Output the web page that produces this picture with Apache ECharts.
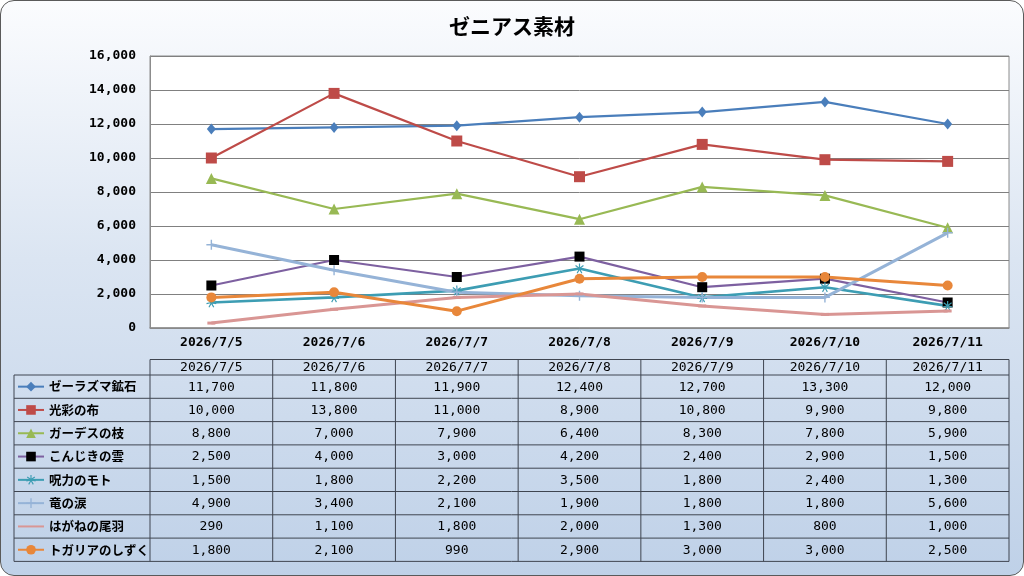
<!DOCTYPE html>
<html>
<head>
<meta charset="utf-8">
<script src="https://cdn.jsdelivr.net/npm/echarts@6/dist/echarts.min.js"></script>
<style>
  html, body { margin: 0; padding: 0; background: #fff; }
  #frame {
    position: absolute; left: 0; top: 0; width: 1022px; height: 574px;
    border: 1px solid #5a5a5a; border-radius: 14px; overflow: hidden;
    background: linear-gradient(to bottom, #fbfcfe 0%, #dbe5f2 45%, #bfd1e8 100%);
  }
  #chart { width: 1022px; height: 574px; }
</style>
</head>
<body>
<div id="frame"><div id="chart"></div></div>
<script>
// カテゴリ（日付）
const dates = ['2026/7/5', '2026/7/6', '2026/7/7', '2026/7/8', '2026/7/9', '2026/7/10', '2026/7/11'];
// 系列名
const names = ['ゼーラズマ鉱石', '光彩の布', 'ガーデスの枝', 'こんじきの雲', '呪力のモト', '竜の涙', 'はがねの尾羽', 'トガリアのしずく'];
// 各系列の値
const zeraOre    = [11700, 11800, 11900, 12400, 12700, 13300, 12000];
const koCloth    = [10000, 13800, 11000, 8900, 10800, 9900, 9800];
const gardBranch = [8800, 7000, 7900, 6400, 8300, 7800, 5900];
const goldCloud  = [2500, 4000, 3000, 4200, 2400, 2900, 1500];
const curseMoto  = [1500, 1800, 2200, 3500, 1800, 2400, 1300];
const dragonTear = [4900, 3400, 2100, 1900, 1800, 1800, 5600];
const steelWing  = [290, 1100, 1800, 2000, 1300, 800, 1000];
const togaDrop   = [1800, 2100, 990, 2900, 3000, 3000, 2500];
// 縦軸目盛
const yTicks = [0, 2000, 4000, 6000, 8000, 10000, 12000, 14000, 16000];

const values = [zeraOre, koCloth, gardBranch, goldCloud, curseMoto, dragonTear, steelWing, togaDrop];

const FONT = "'Noto Sans CJK JP', 'Noto Sans', sans-serif";
const NUMFONT = "'DejaVu Sans Mono', monospace";
const PLUS = 'path://M4.3,0 L5.7,0 L5.7,4.3 L10,4.3 L10,5.7 L5.7,5.7 L5.7,10 L4.3,10 L4.3,5.7 L0,5.7 L0,4.3 L4.3,4.3 Z';
const STAR = 'path://M4.4,0 L5.6,0 L5.6,3.6 L8.6,1.4 L9.3,2.4 L6.2,4.6 L10,5.4 L9.7,6.5 L5.9,5.7 L7.9,9.2 L6.9,9.8 L5,6.5 L3.1,9.8 L2.1,9.2 L4.1,5.7 L0.3,6.5 L0,5.4 L3.8,4.6 L0.7,2.4 L1.4,1.4 L4.4,3.6 Z';

// 系列ごとの見た目
const styles = [
  { color: '#4a7ebb', symbol: 'diamond', size: [9, 11], width: 2.2 },
  { color: '#be4b48', symbol: 'rect', size: 11, width: 2.2 },
  { color: '#98b954', symbol: 'triangle', size: 11, width: 2.2 },
  { color: '#7d60a0', symbol: 'rect', size: 10, width: 2.2, markerColor: '#000' },
  { color: '#3d9db3', symbol: STAR, size: 10, width: 2.6 },
  { color: '#95b3d7', symbol: PLUS, size: 10, width: 3 },
  { color: '#d99694', symbol: 'rect', size: [8, 3], width: 3, hideLegendMark: true },
  { color: '#e8873a', symbol: 'circle', size: 10, width: 3 }
];

const chart = echarts.init(document.getElementById('chart'));

// 表の行レイアウト
const TABLE_LEFT = 13;
const HEAD_TOP = 358.5;
const HEAD_H = 15.5;
const ROW_H = 23.3;
const ROW_TOP = HEAD_TOP + HEAD_H;

const series = names.map((name, i) => ({
  name: name,
  type: 'line',
  data: values[i],
  symbol: styles[i].symbol,
  symbolSize: styles[i].size,
  lineStyle: { color: styles[i].color, width: styles[i].width },
  itemStyle: { color: styles[i].markerColor || styles[i].color },
  color: styles[i].color,
  animation: false
}));

// 凡例は表の各行に1つずつ
const legends = names.map((name, i) => ({
  data: [styles[i].hideLegendMark ? { name: name, itemStyle: { opacity: 0 } } : name],
  left: TABLE_LEFT + 3,
  top: ROW_TOP + i * ROW_H + ROW_H / 2 - 8,
  padding: 0,
  itemWidth: 26,
  itemHeight: 12,
  selectedMode: false,
  textStyle: { fontFamily: FONT, fontSize: 12.5, fontWeight: 'bold', color: '#000', lineHeight: 16 }
}));

chart.setOption({
  textStyle: { fontFamily: FONT },
  title: {
    text: 'ゼニアス素材',
    left: 'center',
    top: 10,
    textStyle: { fontFamily: FONT, fontSize: 21, fontWeight: 'bold', color: '#000' }
  },
  legend: legends,
  grid: {
    left: 149, right: 14, top: 55, bottom: 247,
    show: true, backgroundColor: '#fff', borderColor: '#8c8c8c', borderWidth: 1
  },
  xAxis: {
    type: 'category',
    data: dates,
    boundaryGap: true,
    axisLine: { lineStyle: { color: '#8c8c8c', width: 1.5 } },
    axisTick: { show: false },
    axisLabel: { fontFamily: NUMFONT, fontSize: 13, fontWeight: 'bold', color: '#000', margin: 8 }
  },
  yAxis: {
    type: 'value',
    min: yTicks[0],
    max: yTicks[yTicks.length - 1],
    interval: yTicks[1] - yTicks[0],
    axisLine: { show: true, lineStyle: { color: '#8c8c8c' } },
    axisTick: { show: false },
    splitLine: { lineStyle: { color: '#808080', width: 1 } },
    axisLabel: {
      fontFamily: NUMFONT, fontSize: 13, fontWeight: 'bold', color: '#000', margin: 14,
      formatter: v => v.toLocaleString('en-US')
    }
  },
  series: series
});

// データ表（列位置はx軸から求める）
function drawTable() {
  const xs = dates.map(d => chart.convertToPixel({ xAxisIndex: 0 }, d));
  const band = xs[1] - xs[0];
  const colEdges = xs.map(x => x - band / 2).concat([xs[xs.length - 1] + band / 2]);
  const left = colEdges[0];
  const right = colEdges[colEdges.length - 1];
  const bottom = ROW_TOP + names.length * ROW_H;
  const lineStyle = { stroke: '#3f4550', lineWidth: 1 };
  const els = [];

  // 横線
  els.push({ type: 'line', shape: { x1: left, y1: HEAD_TOP, x2: right, y2: HEAD_TOP }, style: lineStyle });
  for (let r = 0; r <= names.length; r++) {
    const y = ROW_TOP + r * ROW_H;
    els.push({ type: 'line', shape: { x1: TABLE_LEFT, y1: y, x2: right, y2: y }, style: lineStyle });
  }
  // 縦線
  els.push({ type: 'line', shape: { x1: TABLE_LEFT, y1: ROW_TOP, x2: TABLE_LEFT, y2: bottom }, style: lineStyle });
  colEdges.forEach(x => {
    els.push({ type: 'line', shape: { x1: x, y1: HEAD_TOP, x2: x, y2: bottom }, style: lineStyle });
  });
  // 見出し
  dates.forEach((d, c) => {
    els.push({
      type: 'text', x: xs[c], y: HEAD_TOP + HEAD_H / 2 + 0.5,
      style: { text: d, font: '13px ' + NUMFONT, fill: '#000', align: 'center', verticalAlign: 'middle' }
    });
  });
  // 値
  values.forEach((vals, r) => {
    vals.forEach((v, c) => {
      els.push({
        type: 'text', x: xs[c], y: ROW_TOP + r * ROW_H + ROW_H / 2 + 0.5,
        style: { text: v.toLocaleString('en-US'), font: '13px ' + NUMFONT, fill: '#000', align: 'center', verticalAlign: 'middle' }
      });
    });
  });
  chart.setOption({ graphic: [{ type: 'group', silent: true, children: els }] });
}
drawTable();
</script>
</body>
</html>
